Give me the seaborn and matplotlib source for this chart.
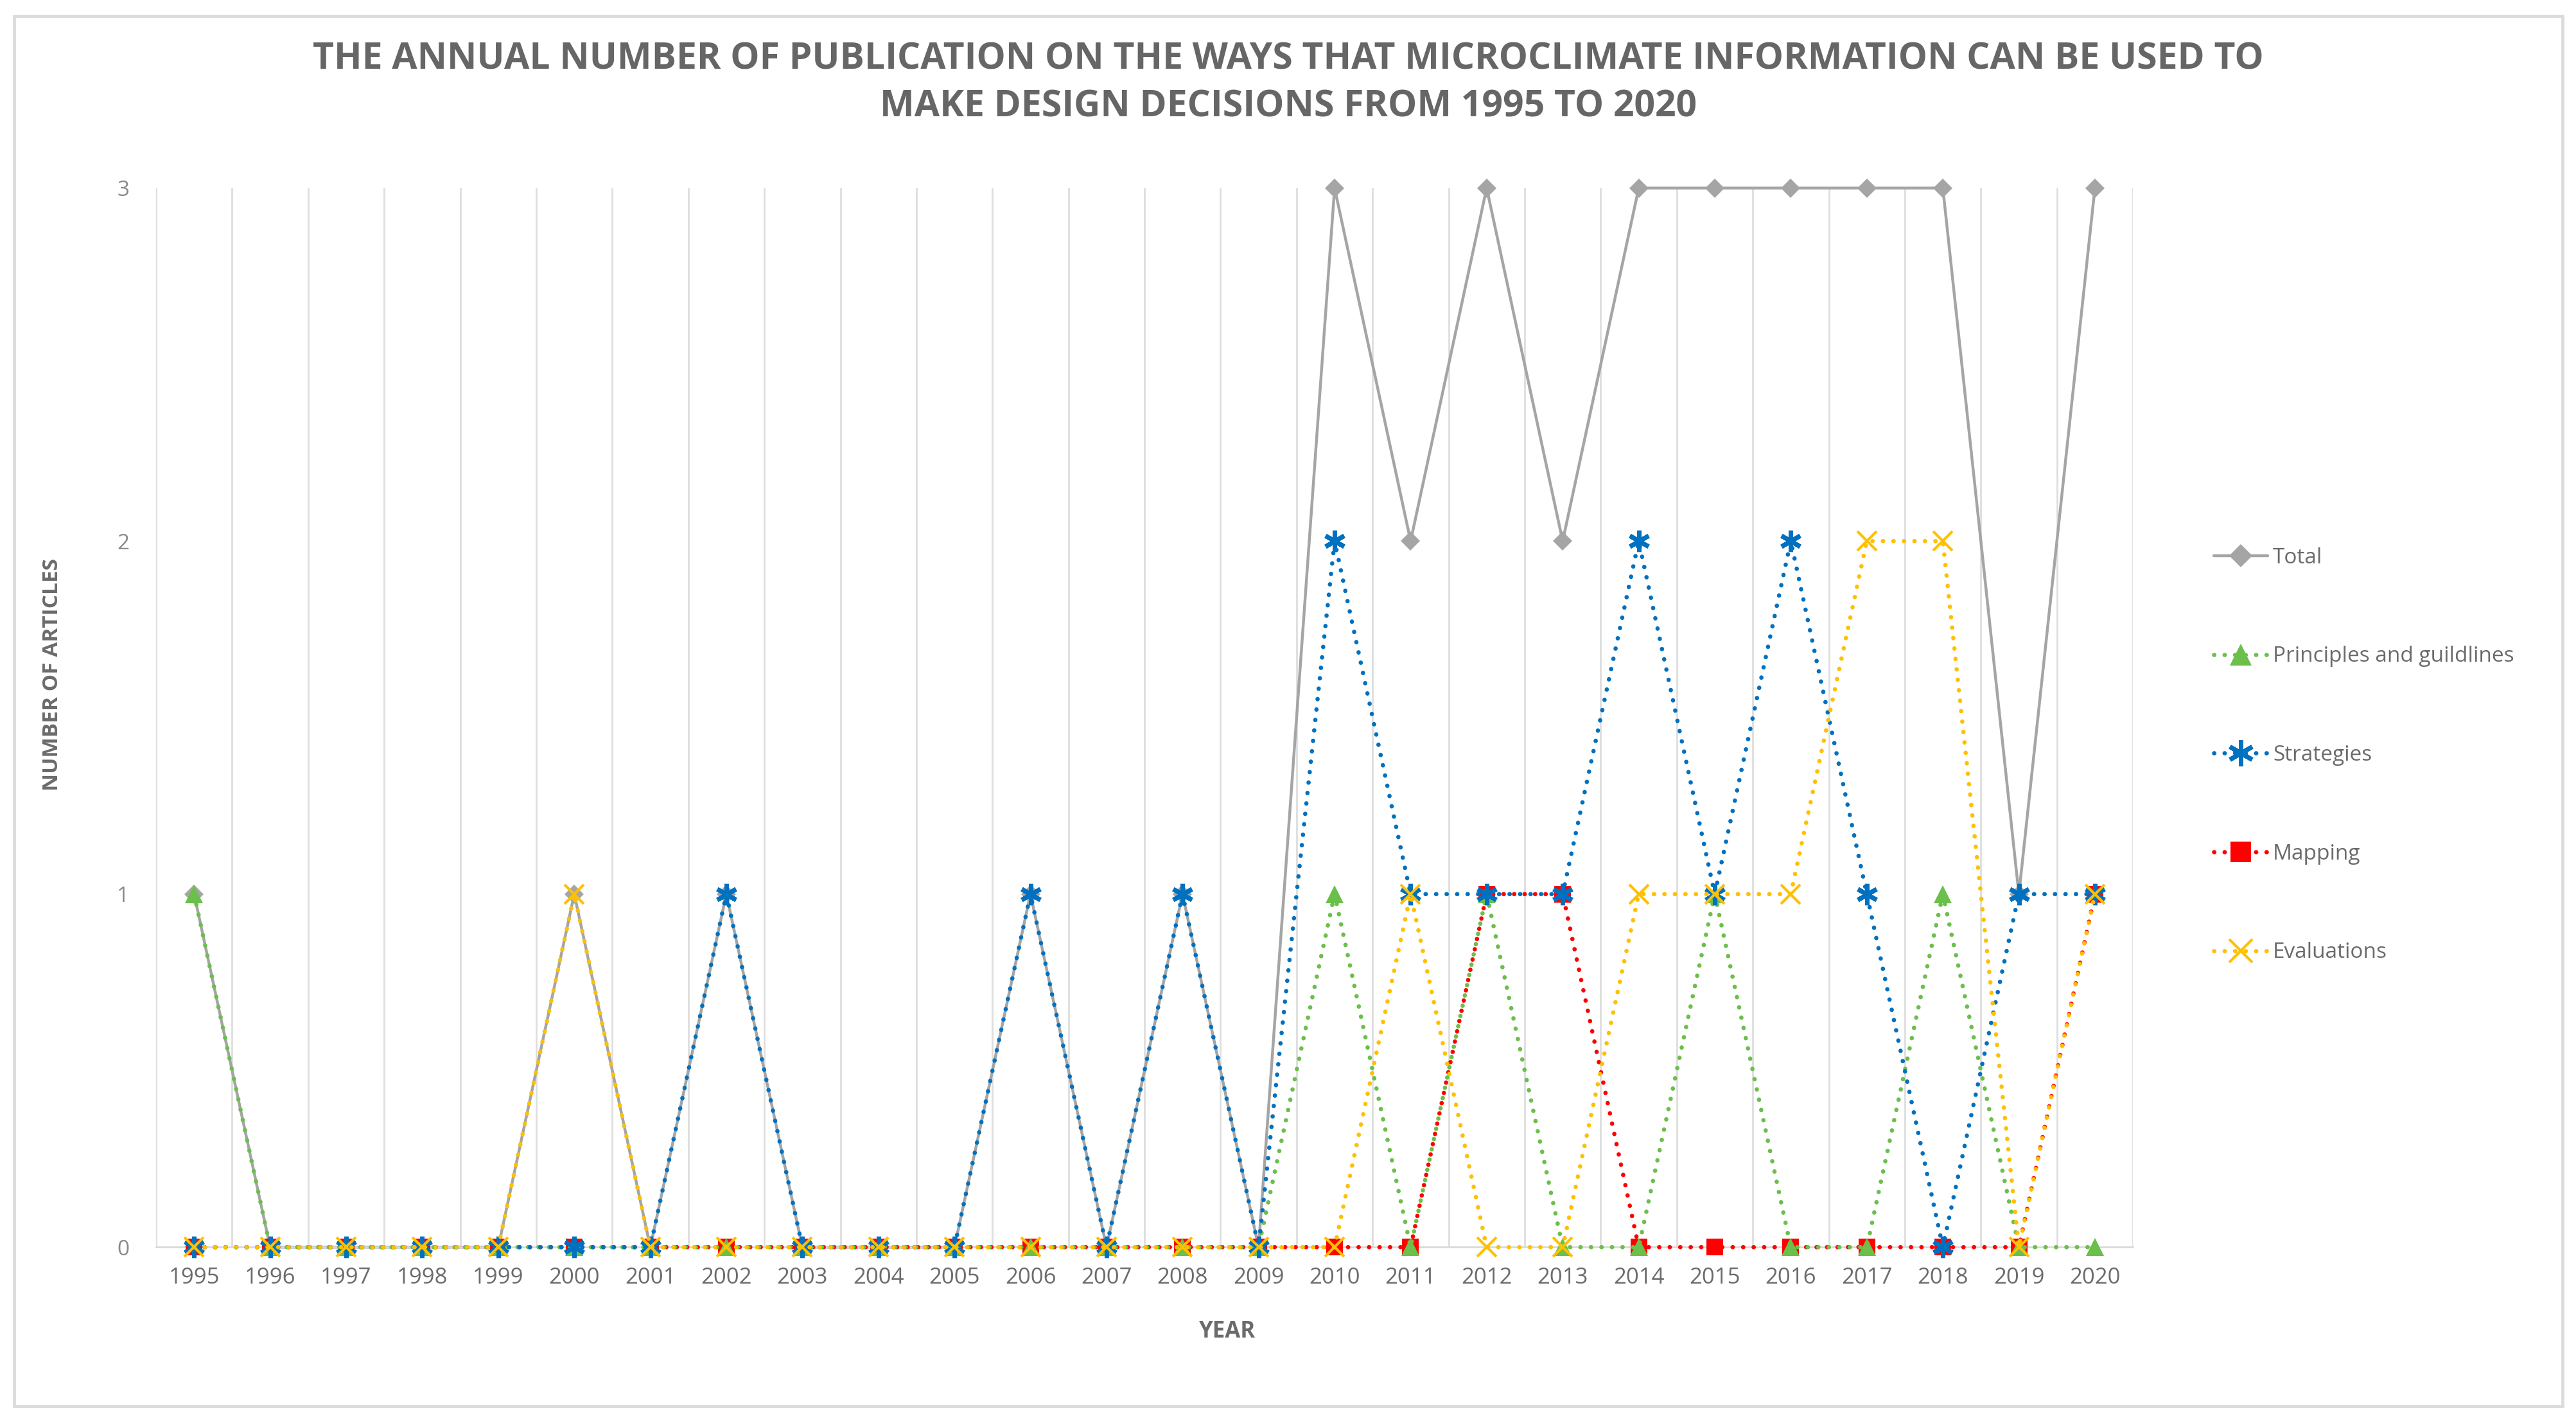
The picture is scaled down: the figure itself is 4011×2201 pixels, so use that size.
import numpy as np
import pandas as pd
import seaborn as sns
import matplotlib.pyplot as plt
from matplotlib.patches import Rectangle

# values
years = list(range(1995, 2021))
total = [1, 0, 0, 0, 0, 1, 0, 1, 0, 0, 0, 1, 0, 1, 0, 3, 2, 3, 2, 3, 3, 3, 3, 3, 1, 3]
principles = [1, 0, 0, 0, 0, 0, 0, 0, 0, 0, 0, 0, 0, 0, 0, 1, 0, 1, 0, 0, 1, 0, 0, 1, 0, 0]
strategies = [0, 0, 0, 0, 0, 0, 0, 1, 0, 0, 0, 1, 0, 1, 0, 2, 1, 1, 1, 2, 1, 2, 1, 0, 1, 1]
mapping = [0, 0, 0, 0, 0, 0, 0, 0, 0, 0, 0, 0, 0, 0, 0, 0, 0, 1, 1, 0, 0, 0, 0, 0, 0, 1]
evaluations = [0, 0, 0, 0, 0, 1, 0, 0, 0, 0, 0, 0, 0, 0, 0, 0, 1, 0, 0, 1, 1, 1, 2, 2, 0, 1]
series_names = ["Total", "Principles and guildlines", "Strategies", "Mapping", "Evaluations"]

df = pd.DataFrame({"Year": years, "Total": total, "Principles and guildlines": principles,
                   "Strategies": strategies, "Mapping": mapping, "Evaluations": evaluations})

sns.set_theme(style="white")
plt.rcParams["font.family"] = ["Open Sans", "DejaVu Sans"]

txt = "#6b6b6b"
dots = (0, (0.05, 2.4))

# look of each series (Excel-like)
styles = {
    "Total": dict(color="#A5A5A5", linestyle="-", linewidth=3.2, marker="D", markersize=15,
                  markerfacecolor="#A5A5A5", markeredgecolor="#A5A5A5", markeredgewidth=0, zorder=2),
    "Mapping": dict(color="#FF0000", linestyle=dots, linewidth=4.8, marker="s", markersize=19,
                    markerfacecolor="#FF0000", markeredgecolor="#FF0000", markeredgewidth=0, zorder=3),
    "Principles and guildlines": dict(color="#6BBF4A", linestyle=dots, linewidth=4.8, marker="^", markersize=20,
                                      markerfacecolor="#6BBF4A", markeredgecolor="#6BBF4A", markeredgewidth=0, zorder=4),
    "Strategies": dict(color="#0070C0", linestyle=dots, linewidth=4.8, marker=(6, 2, 0), markersize=24,
                       markerfacecolor="#0070C0", markeredgecolor="#0070C0", markeredgewidth=5, zorder=5),
    "Evaluations": dict(color="#FFC000", linestyle=dots, linewidth=4.8, marker="x", markersize=22,
                        markerfacecolor="#FFC000", markeredgecolor="#FFC000", markeredgewidth=3, zorder=6),
}

fig = plt.figure(figsize=(40.11, 22.01), dpi=100)
ax = fig.add_axes([0.0606, 0.118, 0.7674, 0.749])

for name in ["Total", "Mapping", "Principles and guildlines", "Strategies", "Evaluations"]:
    sns.lineplot(data=df, x="Year", y=name, ax=ax, label=name, dash_capstyle="round",
                 clip_on=False, **styles[name])

ax.set_xlim(1994.5, 2020.5)
ax.set_ylim(0, 3)
ax.set_xticks(years)
ax.set_xticks(np.arange(1994.5, 2021, 1), minor=True)
ax.set_yticks([0, 1, 2, 3])
ax.grid(False)
ax.grid(which="minor", axis="x", color="#dedede", linewidth=2)
ax.tick_params(which="both", length=0)
ax.tick_params(axis="x", labelsize=25, labelcolor=txt, pad=22)
ax.tick_params(axis="y", labelsize=24, labelcolor="#8a8a8a", pad=30)
for s in ["top", "right", "left"]:
    ax.spines[s].set_visible(False)
ax.spines["bottom"].set_color("#d9d9d9")
ax.spines["bottom"].set_linewidth(2)
ax.set_xlabel("")
ax.set_ylabel("")

fig.text(0.0204, 0.523, "NUMBER OF ARTICLES", rotation=90, ha="center", va="center",
         fontsize=24, fontweight="bold", color=txt)
fig.text(0.4764, 0.058, "YEAR", ha="center", va="center", fontsize=25, fontweight="bold", color=txt)

fig.text(0.5, 0.941, "THE ANNUAL NUMBER OF PUBLICATION ON THE WAYS THAT MICROCLIMATE INFORMATION CAN BE USED TO\n"
         "MAKE DESIGN DECISIONS FROM 1995 TO 2020", ha="center", va="center", fontsize=41,
         fontweight="bold", color="#666666", linespacing=1.36)

handles, labels = ax.get_legend_handles_labels()
order = [labels.index(n) for n in series_names]
ax.legend([handles[i] for i in order], [labels[i] for i in order], loc="center left",
          bbox_to_anchor=(0.852, 0.466), bbox_transform=fig.transFigure, frameon=False,
          fontsize=24, labelcolor=txt, handlelength=2.5, labelspacing=3.62, handletextpad=0.25,
          markerscale=1.2)

fig.add_artist(Rectangle((0.0055, 0.0055), 0.9893, 0.9831, transform=fig.transFigure,
                         fill=False, edgecolor="#dcdcdc", linewidth=3.5))

fig.savefig("out.png", dpi=100, facecolor="white")
